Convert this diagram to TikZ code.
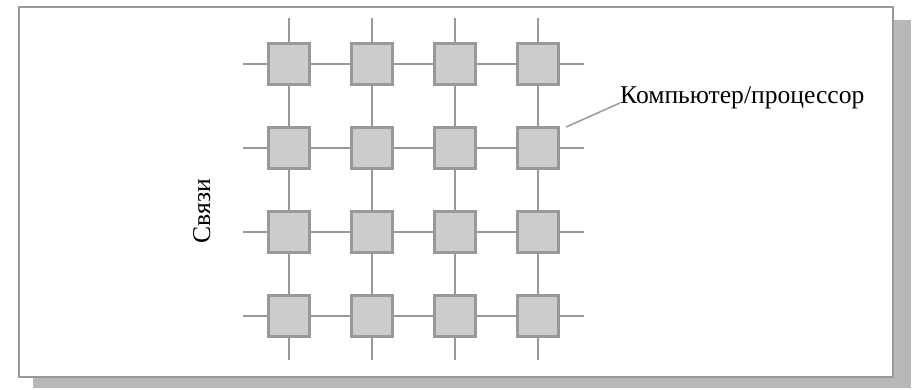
\documentclass[tikz,border=0pt]{standalone}
\usepackage{fontspec}
\setmainfont{Liberation Serif}
\usetikzlibrary{calc}

\definecolor{edgegray}{HTML}{999999}
\definecolor{boxgray}{HTML}{CCCCCC}
\definecolor{shadowgray}{HTML}{B8B8B8}

\tikzset{
  cpu/.style={draw=edgegray, fill=boxgray, line width=3pt, minimum size=41pt, inner sep=0pt},
  link/.style={draw=edgegray, line width=2.2pt},
  lbl/.style={font=\fontsize{25.6}{30}\selectfont, inner sep=0pt}
}

\begin{document}
\begin{tikzpicture}[x=1pt, y=1pt]
\useasboundingbox (0,0) rectangle (915,-389);
% frame with shadow
\fill[shadowgray] (33,-20) rectangle (911,-388);
\draw[edgegray, fill=white, line width=2.5pt] (19,-7) rectangle (893,-377);
% processors
\foreach \i in {1,...,4}
  \foreach \j in {1,...,4}
    \node[cpu] (n-\i-\j) at ({289+83*(\i-1)}, {-64-84*(\j-1)}) {};
% links between neighbours
\foreach \i [evaluate=\i as \k using int(\i+1)] in {1,...,3}
  \foreach \j in {1,...,4} {
    \draw[link] (n-\i-\j.east) -- (n-\k-\j.west);
    \draw[link] (n-\j-\i.south) -- (n-\j-\k.north);
  }
% open ends
\foreach \j in {1,...,4} {
  \draw[link] (n-1-\j.west) -- ++(-24,0);
  \draw[link] (n-4-\j.east) -- ++(24,0);
  \draw[link] (n-\j-1.north) -- ++(0,24);
  \draw[link] (n-\j-4.south) -- ++(0,-22);
}
% labels
\node[lbl, anchor=base west] (cpulbl) at (620,-103) {Компьютер/процессор};
\draw[edgegray, line width=1.5pt] ([shift={(6,-1)}]n-4-2.north east) -- (cpulbl.base west);
\node[lbl, rotate=90, anchor=base] (links) at (210,-211) {Связи};
\end{tikzpicture}
\end{document}
